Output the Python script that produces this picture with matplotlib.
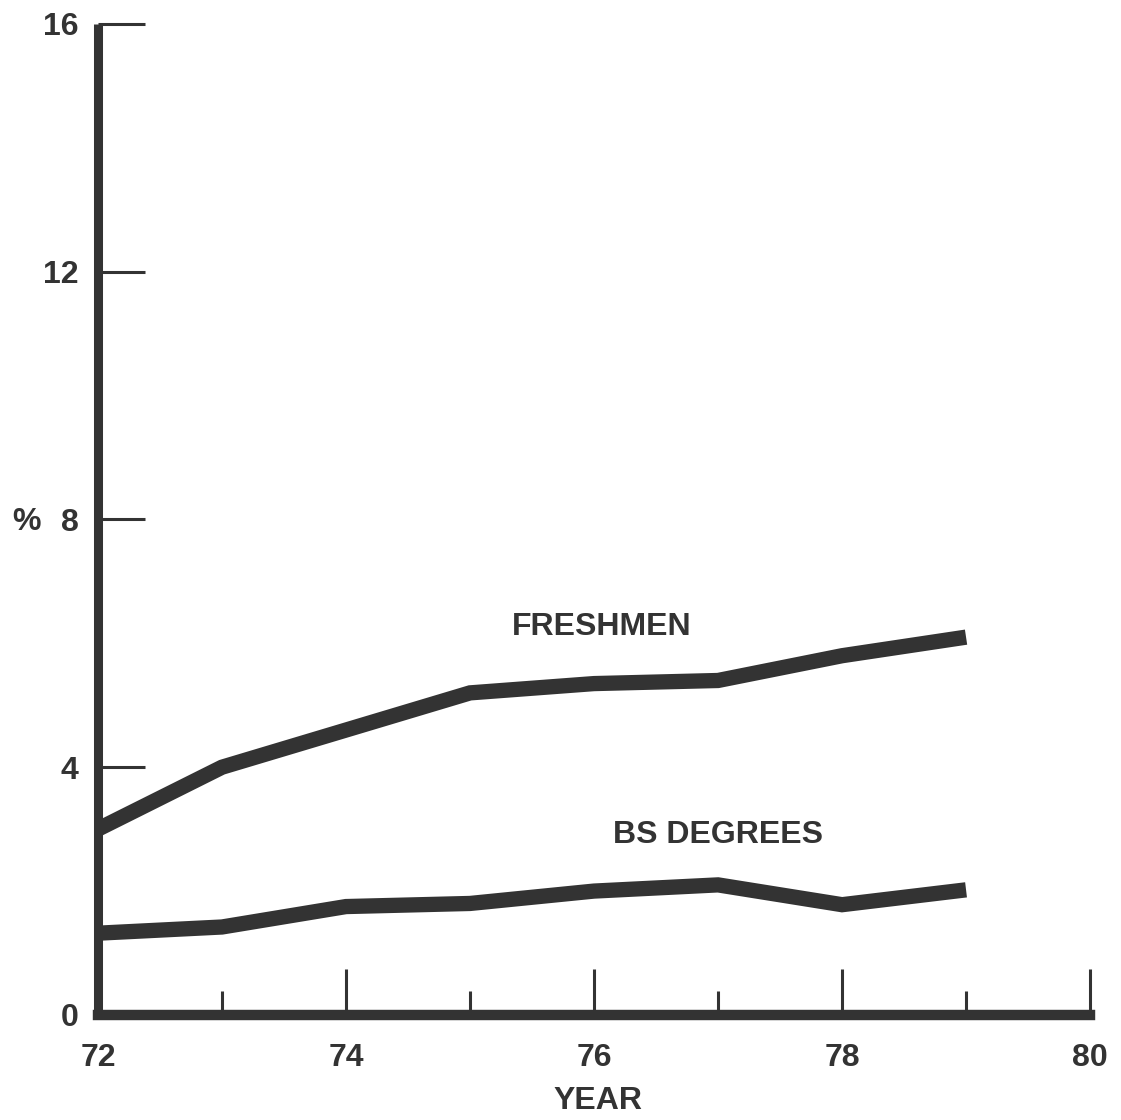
import matplotlib.pyplot as plt

# --- data ---
years = [72, 73, 74, 75, 76, 77, 78, 79]
freshmen = [3.0, 4.0, 4.6, 5.2, 5.35, 5.4, 5.8, 6.1]
bs_degrees = [1.32, 1.42, 1.75, 1.8, 2.0, 2.1, 1.78, 2.02]
major_years = [72, 74, 76, 78, 80]
minor_years = [73, 75, 77, 79]
y_ticks = [0, 4, 8, 12, 16]

ink = '#333333'
plt.rcParams['font.family'] = ['Liberation Sans', 'DejaVu Sans']
plt.rcParams['font.weight'] = 'bold'
fs = 23

fig = plt.figure(figsize=(11.21, 11.20), dpi=100)
ax = fig.add_axes([0.0874, 0.0938, 0.885, 0.8848])

ax.plot(years, freshmen, color=ink, lw=11, solid_capstyle='butt', solid_joinstyle='miter')
ax.plot(years, bs_degrees, color=ink, lw=11, solid_capstyle='butt', solid_joinstyle='miter')

ax.set_xlim(72, 80)
ax.set_ylim(0, 16)

for s in ['top', 'right']:
    ax.spines[s].set_visible(False)
ax.spines['left'].set_linewidth(6.5)
ax.spines['bottom'].set_linewidth(7.5)
ax.spines['left'].set_color(ink)
ax.spines['bottom'].set_color(ink)
ax.spines['left'].set_capstyle('butt')

ax.set_xticks(major_years)
ax.set_xticks(minor_years, minor=True)
ax.set_yticks(y_ticks)
ax.tick_params(axis='y', direction='in', length=34, width=2.2, color=ink,
               labelsize=fs, labelcolor=ink, pad=14)
ax.tick_params(axis='x', which='major', direction='in', length=33, width=2.2,
               color=ink, labelsize=fs, labelcolor=ink, pad=20)
ax.tick_params(axis='x', which='minor', direction='in', length=17, width=2.2, color=ink)
for t in ax.get_xticklabels() + ax.get_yticklabels():
    t.set_fontweight('bold')
ax.yaxis.get_major_ticks()[0].tick1line.set_visible(False)
ax.xaxis.get_major_ticks()[0].tick1line.set_visible(False)

ax.set_ylabel('%', rotation=0, fontsize=fs, fontweight='bold', color=ink, va='center')
ax.yaxis.set_label_coords(-0.072, 0.497)
ax.set_xlabel('YEAR', fontsize=fs, fontweight='bold', color=ink, va='center')
ax.xaxis.set_label_coords(0.504, -0.087)

ax.text(76.06, 6.26, 'FRESHMEN', ha='center', va='center', fontsize=fs,
        fontweight='bold', color=ink)
ax.text(77.0, 2.9, 'BS DEGREES', ha='center', va='center', fontsize=fs,
        fontweight='bold', color=ink)

for ln in ax.get_xticklines() + ax.get_yticklines():
    ln.set_clip_on(False)

fig.savefig('out.png', dpi=100, facecolor='white')
